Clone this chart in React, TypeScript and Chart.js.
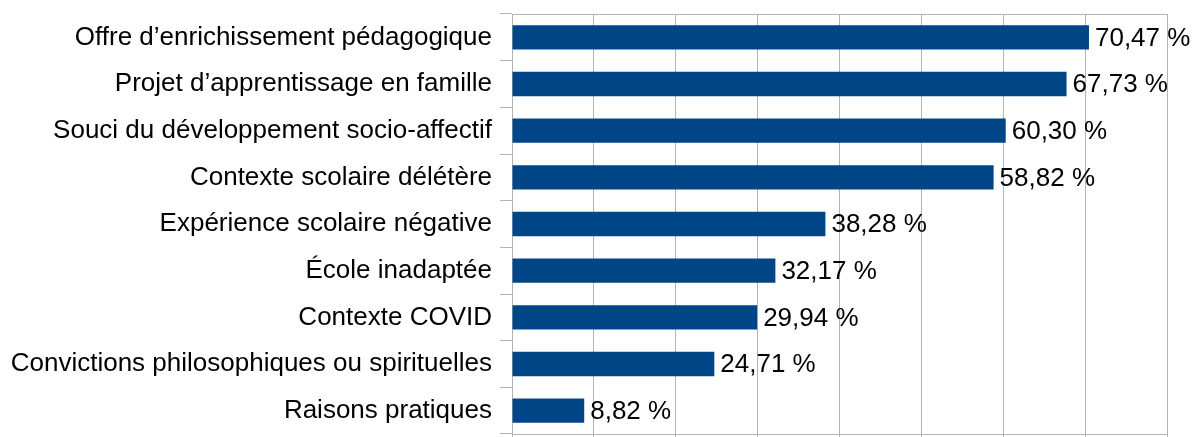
import React, { useEffect, useRef } from "react";
import { Chart, registerables } from "chart.js";

Chart.register(...registerables);

const categories = [
  "Offre d’enrichissement pédagogique",
  "Projet d’apprentissage en famille",
  "Souci du développement socio-affectif",
  "Contexte scolaire délétère",
  "Expérience scolaire négative",
  "École inadaptée",
  "Contexte COVID",
  "Convictions philosophiques ou spirituelles",
  "Raisons pratiques",
];
const values = [70.47, 67.73, 60.3, 58.82, 38.28, 32.17, 29.94, 24.71, 8.82];
const axisMax = 80;
const axisStep = 10;

const FONT = "'Liberation Sans', Arial, sans-serif";
const FONT_SIZE = 26;

const fmt = (v: number) => v.toFixed(2).replace(".", ",") + " %";

const labelPlugin = {
  id: "barLabels",
  afterDatasetsDraw(chart: any) {
    const ctx = chart.ctx;
    const meta = chart.getDatasetMeta(0);
    ctx.save();
    ctx.font = `${FONT_SIZE}px ${FONT}`;
    ctx.fillStyle = "#000";
    ctx.textAlign = "left";
    ctx.textBaseline = "middle";
    meta.data.forEach((el: any, i: number) => {
      ctx.fillText(fmt(values[i]), el.x + 6, el.y + 1);
    });
    ctx.restore();
  },
};

const borderPlugin = {
  id: "frame",
  beforeDatasetsDraw(chart: any) {
    const { ctx, chartArea } = chart;
    ctx.save();
    ctx.strokeStyle = "#b3b3b3";
    ctx.lineWidth = 1;
    ctx.beginPath();
    ctx.moveTo(chartArea.left, chartArea.top + 0.5);
    ctx.lineTo(chartArea.right, chartArea.top + 0.5);
    ctx.stroke();
    ctx.restore();
  },
};

export default function App() {
  const ref = useRef<HTMLCanvasElement>(null);
  useEffect(() => {
    if (!ref.current) return;
    const chart = new Chart(ref.current, {
      type: "bar",
      data: {
        labels: categories,
        datasets: [
          {
            data: values,
            backgroundColor: "#004586",
            barPercentage: 0.52,
            categoryPercentage: 1,
          },
        ],
      },
      options: {
        indexAxis: "y",
        animation: false,
        responsive: false,
        maintainAspectRatio: false,
        layout: { autoPadding: false, padding: { left: 0, top: 14, right: 28, bottom: 0 } },
        plugins: { legend: { display: false }, tooltip: { enabled: false } },
        scales: {
          x: {
            min: 0,
            max: axisMax,
            ticks: { display: false, stepSize: axisStep },
            grid: { color: "#b3b3b3", tickLength: 3, drawTicks: true },
            border: { color: "#b3b3b3" },
            afterFit: (s: any) => {
              s.height = 3;
              s.paddingLeft = 0;
              s.paddingRight = 0;
              s.paddingTop = 0;
              s.paddingBottom = 0;
            },
          },
          y: {
            ticks: {
              color: "#000",
              font: { family: FONT, size: FONT_SIZE },
              padding: 8,
            },
            grid: {
              offset: true,
              drawOnChartArea: false,
              color: "#b3b3b3",
              tickLength: 12,
            },
            border: { color: "#b3b3b3" },
            afterFit: (s: any) => {
              s.width = 512;
              s.paddingLeft = 0;
              s.paddingRight = 0;
              s.paddingTop = 0;
              s.paddingBottom = 0;
            },
          },
        },
      },
      plugins: [labelPlugin, borderPlugin],
    });
    return () => chart.destroy();
  }, []);
  return (
    <canvas
      ref={ref}
      width={1195}
      height={437}
      style={{ position: "absolute", left: 0, top: 0, width: 1195, height: 437 }}
    />
  );
}
